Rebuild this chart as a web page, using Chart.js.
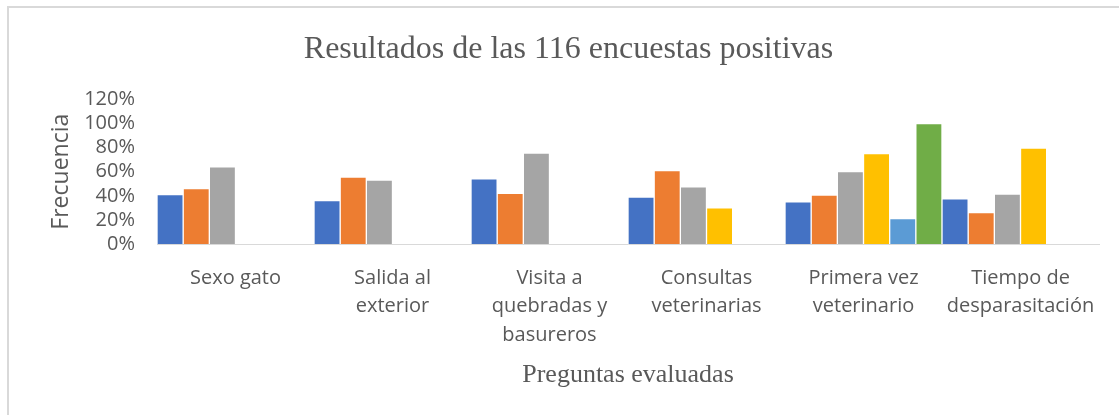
<!DOCTYPE html>
<html>
<head>
<meta charset="utf-8">
<script src="https://cdn.jsdelivr.net/npm/chart.js@4/dist/chart.umd.min.js"></script>
<style>
  html, body { margin: 0; padding: 0; background: #fff; }
  #wrap { position: relative; width: 1119px; height: 415px; overflow: hidden; }
  #frame { position: absolute; left: 7px; top: 6px; width: 1200px; height: 500px;
           border-left: 2px solid #D9D9D9; border-top: 2px solid #D9D9D9; }
  #chart { position: absolute; left: 0; top: 0; }
</style>
</head>
<body>
<div id="wrap">
  <div id="frame"></div>
  <canvas id="chart" width="1119" height="415"></canvas>
</div>
<script>
// categories (multi-line like the original)
const categories = [
  'Sexo gato',
  ['Salida al', 'exterior'],
  ['Visita a', 'quebradas y', 'basureros'],
  ['Consultas', 'veterinarias'],
  ['Primera vez', 'veterinario'],
  ['Tiempo de', 'desparasitación']
];

// values in %
const serie1 = [41, 36, 54, 39, 35, 37.5];
const serie2 = [46, 55.5, 42, 61, 40.5, 26];
const serie3 = [64, 53, 75.5, 47.5, 60, 41.5];
const serie4 = [null, null, null, 30, 75, 79.5];
const serie5 = [null, null, null, null, 21, null];
const serie6 = [null, null, null, null, 100, null];

const yTicks = [0, 20, 40, 60, 80, 100, 120];

const colors = ['#4472C4', '#ED7D31', '#A5A5A5', '#FFC000', '#5B9BD5', '#70AD47'];
const allSeries = [serie1, serie2, serie3, serie4, serie5, serie6];

const textColor = '#595959';

const datasets = allSeries.map((values, i) => ({
  label: 'Serie' + (i + 1),
  data: values,
  backgroundColor: colors[i],
  borderColor: 'rgba(255,255,255,0.7)',
  borderWidth: 1,
  categoryPercentage: 1,
  barPercentage: 1
}));

new Chart(document.getElementById('chart'), {
  type: 'bar',
  data: { labels: categories, datasets: datasets },
  options: {
    responsive: false,
    animation: false,
    devicePixelRatio: 1,
    // left padding pushes the title centre to the right like in the original
    layout: { padding: { left: 38, right: 20, top: 0, bottom: 0 } },
    plugins: {
      legend: { display: false },
      tooltip: { enabled: false },
      title: {
        display: true,
        text: 'Resultados de las 116 encuestas positivas',
        color: textColor,
        font: { family: '"Liberation Serif", "Times New Roman", serif', size: 32, weight: 'normal', lineHeight: 1.2 },
        padding: { top: 30, bottom: 31 }
      }
    },
    scales: {
      x: {
        grid: { display: false, drawTicks: false },
        border: { display: true, color: '#D9D9D9', width: 1 },
        ticks: {
          color: textColor,
          autoSkip: false,
          maxRotation: 0,
          minRotation: 0,
          padding: 20,
          font: { family: '"Open Sans", sans-serif', size: 20, lineHeight: 1.42 }
        },
        title: {
          display: true,
          text: 'Preguntas evaluadas',
          color: textColor,
          font: { family: '"Liberation Serif", "Times New Roman", serif', size: 26, lineHeight: 1.2 },
          padding: { top: 0, bottom: 24 }
        },
        afterFit: (scale) => { scale.height = 171; }
      },
      y: {
        min: 0,
        max: 120,
        grid: { display: false, drawTicks: false },
        border: { display: false },
        afterBuildTicks: (scale) => { scale.ticks = yTicks.map(v => ({ value: v })); },
        ticks: {
          color: textColor,
          autoSkip: false,
          padding: 22,
          font: { family: '"Open Sans", sans-serif', size: 20 },
          callback: (v) => v + '%'
        },
        title: {
          display: true,
          text: 'Frecuencia',
          color: textColor,
          font: { family: '"Open Sans", sans-serif', size: 23, lineHeight: 1.2 },
          padding: { top: 10, bottom: 0 }
        },
        afterFit: (scale) => { scale.width = 119; }
      }
    }
  }
});
</script>
</body>
</html>
